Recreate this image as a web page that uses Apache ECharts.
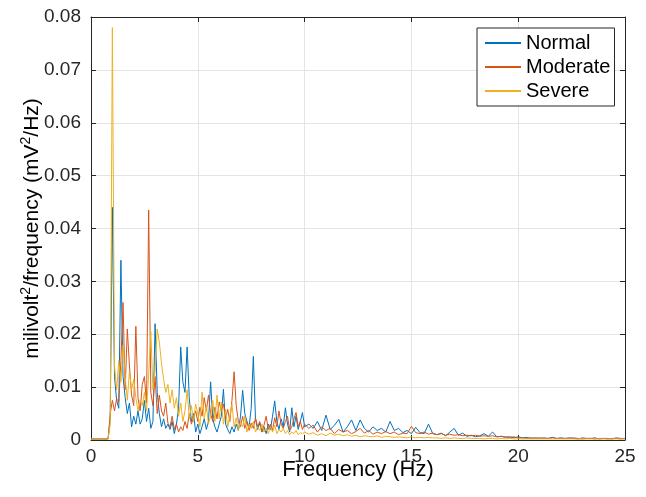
<!DOCTYPE html>
<html>
<head>
<meta charset="utf-8">
<script src="https://cdn.jsdelivr.net/npm/echarts@6/dist/echarts.min.js"></script>
<style>html,body{margin:0;padding:0;background:#fff}#c{width:646px;height:497px}</style>
</head>
<body>
<div id="c"></div>
<script>
// Frequency grid (Hz)
var freqLow = [0,0.1,0.2,0.3,0.4,0.5,0.6,0.7,0.8,0.9,
 1,1.1,1.2,1.3,1.4,1.5,1.6,1.7,1.8,1.9,
 2,2.1,2.2,2.3,2.4,2.5,2.6,2.7,2.8,2.9,
 3,3.1,3.2,3.3,3.4,3.5,3.6,3.7,3.8,3.9,
 4,4.1,4.2,4.3,4.4,4.5,4.6,4.7,4.8,4.9,
 5,5.1,5.2,5.3,5.4,5.5,5.6,5.7,5.8,5.9,
 6,6.1,6.2,6.3,6.4,6.5,6.6,6.7,6.8,6.9,
 7,7.1,7.2,7.3,7.4,7.5,7.6,7.7,7.8,7.9,
 8,8.1,8.2,8.3,8.4,8.5,8.6,8.7,8.8,8.9,
 9,9.1,9.2,9.3,9.4,9.5,9.6,9.7,9.8,9.9,
 10];
var freqHigh = [10.2,10.4,10.6,10.8,11,11.2,11.4,11.6,11.8,12,
 12.2,12.4,12.6,12.8,13,13.2,13.4,13.6,13.8,14,
 14.2,14.4,14.6,14.8,15,15.2,15.4,15.6,15.8,16,
 16.2,16.4,16.6,16.8,17,17.2,17.4,17.6,17.8,18,
 18.2,18.4,18.6,18.8,19,19.2,19.4,19.6,19.8,20,
 20.2,20.4,20.6,20.8,21,21.2,21.4,21.6,21.8,22,
 22.2,22.4,22.6,22.8,23,23.2,23.4,23.6,23.8,24,
 24.2,24.4,24.6,24.8,25];

var normalLow = [0.0002,0.0002,0.0002,0.0002,0.0002,0.0002,0.0002,0.0002,0.0002,0.004,
 0.044,0.012,0.0075,0.006,0.034,0.012,0.008,0.005,0.007,0.0025,
 0.0045,0.003,0.0055,0.003,0.004,0.0075,0.0035,0.006,0.0022,0.0035,
 0.022,0.009,0.005,0.0025,0.004,0.0022,0.003,0.002,0.0035,0.0012,
 0.003,0.006,0.0176,0.011,0.009,0.0176,0.008,0.0035,0.005,0.0015,
 0.003,0.0012,0.0025,0.004,0.002,0.0035,0.011,0.004,0.0025,0.0015,
 0.003,0.0045,0.0096,0.003,0.002,0.0012,0.0025,0.0015,0.003,0.0018,
 0.0045,0.0094,0.005,0.0035,0.0025,0.006,0.0158,0.004,0.002,0.0032,
 0.0015,0.0025,0.0012,0.003,0.002,0.0045,0.0074,0.0035,0.002,0.004,
 0.0025,0.0061,0.003,0.0015,0.0061,0.0025,0.0045,0.002,0.0035,0.0052,
 0.0025];
var normalHigh = [0.003,0.0022,0.0035,0.0018,0.0047,0.002,0.0028,0.0039,0.0015,0.0025,
 0.0038,0.0018,0.0038,0.0022,0.0015,0.0025,0.0018,0.0022,0.0015,0.0035,
 0.0018,0.0022,0.0014,0.0018,0.0012,0.0024,0.0014,0.0012,0.003,0.0012,
 0.001,0.0013,0.0008,0.0015,0.0022,0.0009,0.0013,0.0007,0.0009,0.0006,
 0.0008,0.0012,0.0007,0.0015,0.0006,0.0007,0.0005,0.0006,0.0004,0.0006,
 0.0004,0.0005,0.0003,0.0004,0.0003,0.0004,0.0003,0.0005,0.0003,0.0004,
 0.0003,0.0004,0.0003,0.0002,0.0004,0.0003,0.0003,0.0004,0.0002,0.0003,
 0.0003,0.0002,0.0004,0.0003,0.0003];

var moderateLow = [0.0002,0.0002,0.0002,0.0002,0.0002,0.0002,0.0002,0.0002,0.0002,0.005,
 0.0075,0.0055,0.0078,0.0072,0.015,0.026,0.0095,0.021,0.014,0.0085,
 0.0065,0.0215,0.008,0.0055,0.0105,0.012,0.007,0.0435,0.009,0.0065,
 0.012,0.005,0.0085,0.0055,0.0045,0.007,0.0032,0.0025,0.0045,0.002,
 0.003,0.0015,0.0025,0.0018,0.0035,0.0022,0.005,0.003,0.0042,0.0055,
 0.0035,0.0062,0.0045,0.008,0.0055,0.0085,0.005,0.0035,0.0062,0.004,
 0.0072,0.0055,0.0068,0.004,0.0058,0.0035,0.0075,0.0129,0.0065,0.0035,
 0.0025,0.0045,0.0022,0.0035,0.0018,0.0032,0.0022,0.0042,0.0025,0.0035,
 0.0015,0.0028,0.0045,0.002,0.003,0.0018,0.0042,0.0025,0.0055,0.003,
 0.0022,0.0035,0.0045,0.0018,0.0025,0.004,0.0052,0.0025,0.0035,0.002,
 0.003];
var moderateHigh = [0.0022,0.0028,0.0015,0.0025,0.0018,0.0022,0.0012,0.002,0.0015,0.0018,
 0.0012,0.0016,0.0022,0.0013,0.0018,0.0011,0.0015,0.0012,0.0016,0.0012,
 0.0015,0.001,0.0013,0.0012,0.0026,0.0014,0.0012,0.0015,0.0011,0.0013,
 0.001,0.0012,0.0009,0.0011,0.0009,0.001,0.0008,0.0009,0.0008,0.0009,
 0.0007,0.0008,0.0007,0.0008,0.0006,0.0007,0.0006,0.0005,0.0006,0.0004,
 0.0004,0.0003,0.0004,0.0003,0.0004,0.0003,0.0003,0.0004,0.0003,0.0003,
 0.0003,0.0003,0.0004,0.0003,0.0002,0.0003,0.0003,0.0002,0.0003,0.0003,
 0.0002,0.0003,0.0003,0.0002,0.0003];

var severeLow = [0.0002,0.0002,0.0002,0.0002,0.0002,0.0002,0.0002,0.0002,0.0002,0.003,
 0.078,0.014,0.0095,0.015,0.011,0.018,0.012,0.0075,0.013,0.0095,
 0.0115,0.008,0.0055,0.0075,0.0065,0.009,0.0055,0.0125,0.0205,0.0095,
 0.013,0.021,0.0185,0.0145,0.0115,0.009,0.0105,0.007,0.0095,0.006,
 0.008,0.0045,0.007,0.0035,0.0055,0.0095,0.004,0.0065,0.0035,0.0068,
 0.005,0.0025,0.0091,0.004,0.0065,0.003,0.0045,0.0075,0.0035,0.0085,
 0.004,0.0072,0.003,0.0058,0.0025,0.0045,0.0068,0.0025,0.0042,0.0018,
 0.0035,0.0025,0.0045,0.0015,0.003,0.0022,0.0035,0.0015,0.0025,0.0018,
 0.003,0.0015,0.0022,0.0012,0.0025,0.0015,0.0028,0.0012,0.002,0.0015,
 0.0022,0.0012,0.0018,0.001,0.0015,0.0012,0.0018,0.001,0.0014,0.0012,
 0.0015];
var severeHigh = [0.0011,0.0014,0.0009,0.0012,0.0008,0.0013,0.0009,0.0011,0.0008,0.001,
 0.0007,0.0009,0.0006,0.0008,0.0007,0.0006,0.0008,0.0005,0.0007,0.0006,
 0.0005,0.0006,0.0005,0.0004,0.0006,0.0004,0.0005,0.0004,0.0005,0.0004,
 0.0004,0.0003,0.0004,0.0003,0.0004,0.0003,0.0003,0.0004,0.0003,0.0003,
 0.0003,0.0002,0.0003,0.0003,0.0002,0.0003,0.0002,0.0003,0.0002,0.0002,
 0.0002,0.0002,0.0002,0.0002,0.0002,0.0002,0.0002,0.0002,0.0002,0.0002,
 0.0002,0.0002,0.0002,0.0002,0.0002,0.0002,0.0002,0.0002,0.0002,0.0002,
 0.0002,0.0002,0.0002,0.0002,0.0002];

var seriesNames = ['Normal', 'Moderate', 'Severe'];
var xTicks = [0, 5, 10, 15, 20, 25];
var yTicks = [0, 0.01, 0.02, 0.03, 0.04, 0.05, 0.06, 0.07, 0.08];

var freqs = freqLow.concat(freqHigh);
function pairs(low, high) {
  var v = low.concat(high);
  return freqs.map(function (f, i) { return [f, v[i]]; });
}
var colors = ['#0072BD', '#D95319', '#EDB120'];
var allData = [pairs(normalLow, normalHigh), pairs(moderateLow, moderateHigh), pairs(severeLow, severeHigh)];

var font = 'Liberation Sans, Arial, Helvetica, sans-serif';
var axisCol = '#262626';
function baseAxis(isX, extra) {
  var ticks = isX ? xTicks : yTicks;
  var a = {
    type: 'value',
    min: ticks[0], max: ticks[ticks.length - 1],
    interval: ticks[1] - ticks[0],
    axisLine: { show: true, onZero: false, lineStyle: { color: axisCol, width: 1 } },
    axisTick: { show: true, inside: true, length: 5, lineStyle: { color: axisCol } },
    splitLine: { show: false },
    axisLabel: { show: false }
  };
  for (var k in extra) a[k] = extra[k];
  return a;
}

var chart = echarts.init(document.getElementById('c'), null, { renderer: 'canvas' });
chart.setOption({
  backgroundColor: '#ffffff',
  animation: false,
  textStyle: { fontFamily: font },
  grid: { left: 91, right: 21, top: 17, bottom: 57, containLabel: false, outerBoundsMode: 'none' },
  legend: {
    data: seriesNames,
    orient: 'vertical',
    left: 477, top: 28,
    backgroundColor: '#ffffff',
    borderColor: axisCol, borderWidth: 1,
    padding: [5, 4, 5, 7],
    itemWidth: 36, itemHeight: 14, itemGap: 4,
    itemStyle: { opacity: 0 },
    textStyle: { fontFamily: font, fontSize: 20, color: '#000' }
  },
  xAxis: [
    baseAxis(true, {
      position: 'bottom',
      name: 'Frequency (Hz)', nameLocation: 'middle', nameGap: 19, nameMoveOverlap: false,
      nameTextStyle: { fontFamily: font, fontSize: 22, color: '#000' },
      axisLabel: { show: true, margin: 7, fontFamily: font, fontSize: 19, color: axisCol,
        formatter: function (v) { return String(v); } },
      splitLine: { show: true, lineStyle: { color: '#e4e4e4', width: 1 } }
    }),
    baseAxis(true, { position: 'top' })
  ],
  yAxis: [
    baseAxis(false, {
      position: 'left',
      name: 'milivolt{sup|2}/frequency (mV{sup|2}/Hz)', nameLocation: 'middle', nameGap: 46, nameMoveOverlap: false,
      nameTextStyle: { fontFamily: font, fontSize: 21, color: '#000', lineHeight: 26,
        rich: { sup: { fontFamily: font, fontSize: 14, color: '#000', verticalAlign: 'top', lineHeight: 14 } } },
      axisLabel: { show: true, margin: 10, fontFamily: font, fontSize: 19, color: axisCol,
        formatter: function (v) { return String(+v.toFixed(2)); } },
      splitLine: { show: true, lineStyle: { color: '#e4e4e4', width: 1 } }
    }),
    baseAxis(false, { position: 'right' })
  ],
  series: seriesNames.map(function (n, i) {
    return {
      name: n, type: 'line', xAxisIndex: 0, yAxisIndex: 0,
      data: allData[i], symbol: 'none', showSymbol: false,
      lineStyle: { color: colors[i], width: 1 },
      itemStyle: { color: colors[i] },
      emphasis: { disabled: true }
    };
  })
});
</script>
</body>
</html>
